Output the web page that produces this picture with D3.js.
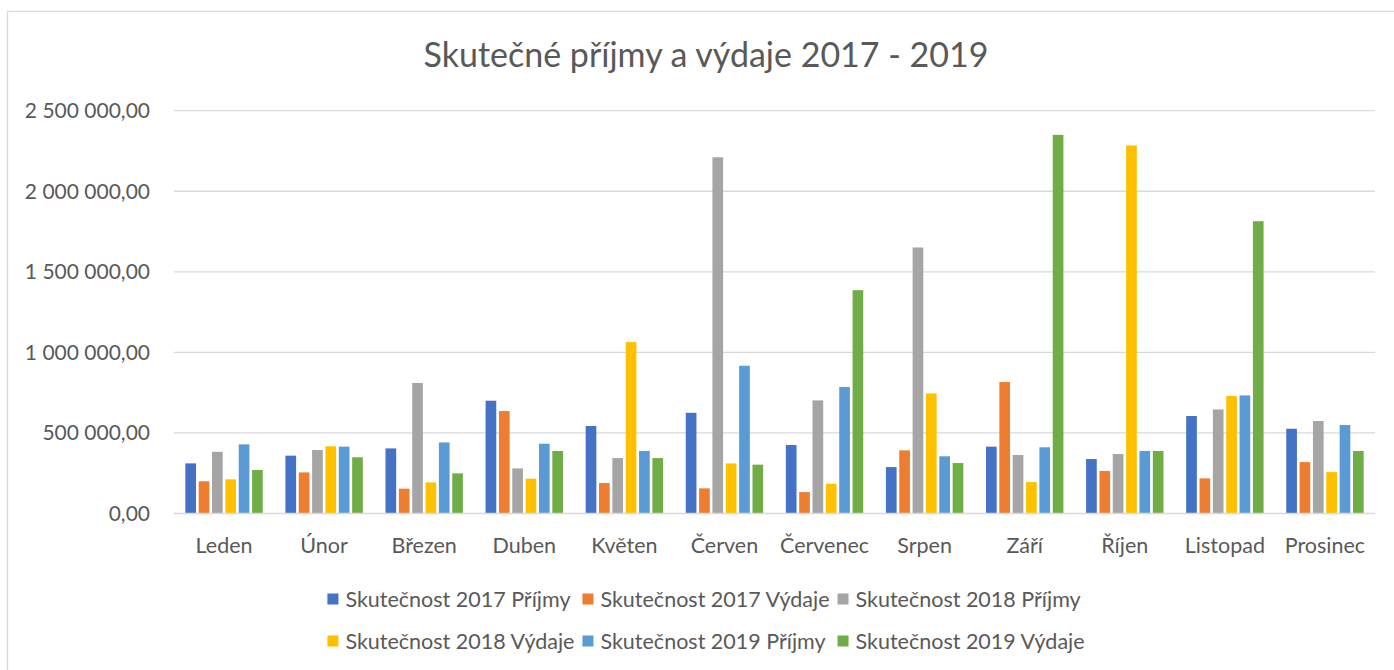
<!DOCTYPE html>
<html>
<head>
<meta charset="utf-8">
<script src="https://cdn.jsdelivr.net/npm/d3@7"></script>
<style>
  body { margin: 0; background: #fff; }
  text { font-family: Lato, "Open Sans", sans-serif; fill: #595959; }
</style>
</head>
<body>
<script>
'use strict';

const months = ["Leden", "Únor", "Březen", "Duben", "Květen", "Červen",
  "Červenec", "Srpen", "Září", "Říjen", "Listopad", "Prosinec"];

const seriesNames = ["Skutečnost 2017 Příjmy", "Skutečnost 2017 Výdaje",
  "Skutečnost 2018 Příjmy", "Skutečnost 2018 Výdaje",
  "Skutečnost 2019 Příjmy", "Skutečnost 2019 Výdaje"];

const prijmy2017 = [311000, 359000, 404000, 700000, 543000, 625000, 425000, 288000, 415000, 338000, 605000, 526000];
const vydaje2017 = [200000, 255000, 154000, 636000, 189000, 156000, 133000, 392000, 816000, 264000, 218000, 319000];
const prijmy2018 = [383000, 394000, 810000, 280000, 344000, 2211000, 702000, 1651000, 363000, 369000, 646000, 574000];
const vydaje2018 = [212000, 417000, 193000, 216000, 1064000, 311000, 185000, 745000, 195000, 2284000, 729000, 257000];
const prijmy2019 = [429000, 415000, 441000, 433000, 388000, 917000, 785000, 355000, 411000, 388000, 733000, 549000];
const vydaje2019 = [270000, 349000, 249000, 388000, 344000, 303000, 1386000, 313000, 2350000, 388000, 1814000, 388000];

const yTicks = [0, 500000, 1000000, 1500000, 2000000, 2500000];

const colors = ["#4472C4", "#ED7D31", "#A5A5A5", "#FFC000", "#5B9BD5", "#70AD47"];

const allValues = [prijmy2017, vydaje2017, prijmy2018, vydaje2018, prijmy2019, vydaje2019];

const width = 1394, height = 670;

const svg = d3.select("body").append("svg")
  .attr("width", width)
  .attr("height", height);

// chart area outline
svg.append("rect")
  .attr("x", 7.5).attr("y", 11.5)
  .attr("width", 1400).attr("height", 700)
  .attr("fill", "none")
  .attr("stroke", "#d9d9d9")
  .attr("stroke-width", 1.3);

const x = d3.scaleBand().domain(months).range([174, 1375]);
const x1 = d3.scaleBand().domain(d3.range(seriesNames.length))
  .range([10, x.bandwidth() - 10])
  .paddingInner(0.2).paddingOuter(0.1);
const y = d3.scaleLinear().domain([0, 2500000]).range([513.5, 110.7]);

const loc = d3.formatLocale({ decimal: ",", thousands: "\u00a0", grouping: [3], currency: ["", ""] });
const fmt = loc.format(",.2f");

// gridlines
svg.append("g").selectAll("line")
  .data(yTicks.slice(1))
  .join("line")
  .attr("x1", 174).attr("x2", 1375)
  .attr("y1", d => y(d)).attr("y2", d => y(d))
  .attr("stroke", "#d9d9d9").attr("stroke-width", 1.3);

// y labels
svg.append("g").selectAll("text")
  .data(yTicks)
  .join("text")
  .attr("x", 150)
  .attr("y", d => y(d))
  .attr("dy", "0.35em")
  .attr("text-anchor", "end")
  .style("font-size", "21px")
  .text(d => fmt(d));

// bars
const groups = svg.append("g").selectAll("g")
  .data(months)
  .join("g")
  .attr("transform", d => `translate(${x(d)},0)`);

groups.selectAll("rect")
  .data((m, i) => allValues.map((vals, s) => ({ s: s, v: vals[i] })))
  .join("rect")
  .attr("x", d => x1(d.s))
  .attr("width", x1.bandwidth())
  .attr("y", d => y(d.v))
  .attr("height", d => y(0) - y(d.v))
  .attr("fill", d => colors[d.s]);

// baseline
svg.append("line")
  .attr("x1", 174).attr("x2", 1375)
  .attr("y1", y(0)).attr("y2", y(0))
  .attr("stroke", "#d9d9d9").attr("stroke-width", 1.3);

// x labels
svg.append("g").selectAll("text")
  .data(months)
  .join("text")
  .attr("x", d => x(d) + x.bandwidth() / 2)
  .attr("y", 545)
  .attr("dy", "0.35em")
  .attr("text-anchor", "middle")
  .style("font-size", "21.5px")
  .text(d => d);

// title
svg.append("text")
  .attr("x", 706)
  .attr("y", 55)
  .attr("dy", "0.35em")
  .attr("text-anchor", "middle")
  .style("font-size", "34px")
  .text("Skutečné příjmy a výdaje 2017 - 2019");

// legend, 3 columns x 2 rows
const legend = svg.append("g");
const items = legend.selectAll("g")
  .data(seriesNames)
  .join("g");

items.append("rect")
  .attr("width", 11).attr("height", 11)
  .attr("y", -5.5)
  .attr("fill", (d, i) => colors[i]);

items.append("text")
  .attr("x", 18)
  .attr("dy", "0.35em")
  .style("font-size", "21.5px")
  .text(d => d);

let maxW = 0;
items.selectAll("text").each(function () {
  maxW = Math.max(maxW, this.getComputedTextLength());
});
const colW = 18 + maxW + 8;
const legendLeft = 706 - (colW * 3 - 8) / 2;
items.attr("transform", (d, i) =>
  `translate(${legendLeft + (i % 3) * colW},${i < 3 ? 599 : 641})`);
</script>
</body>
</html>
